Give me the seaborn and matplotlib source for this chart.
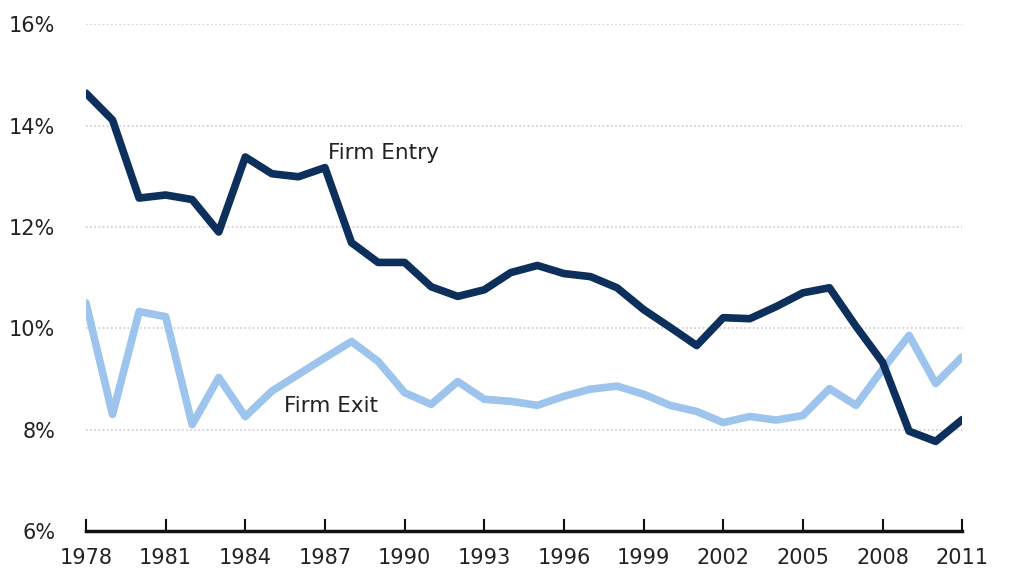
import numpy as np
import pandas as pd
import matplotlib
matplotlib.use('Agg')
import matplotlib.pyplot as plt
import seaborn as sns

# data (percent)
years = list(range(1978, 2012))
firm_entry = [14.64, 14.11, 12.57, 12.63, 12.54, 11.90, 13.38, 13.05, 12.99, 13.17,
              11.69, 11.30, 11.30, 10.82, 10.63, 10.76, 11.10, 11.24, 11.08, 11.02,
              10.80, 10.37, 10.02, 9.66, 10.21, 10.19, 10.43, 10.70, 10.80, 10.04,
              9.33, 7.97, 7.77, 8.20]
firm_exit = [10.50, 8.30, 10.33, 10.23, 8.10, 9.03, 8.26, 8.76, 9.09, 9.42,
             9.74, 9.35, 8.73, 8.50, 8.95, 8.60, 8.56, 8.48, 8.66, 8.80,
             8.86, 8.70, 8.48, 8.36, 8.14, 8.26, 8.19, 8.28, 8.81, 8.48,
             9.19, 9.86, 8.91, 9.44]
xticks = list(range(1978, 2012, 3))
yticks = [6, 8, 10, 12, 14, 16]

df = pd.DataFrame({'year': years, 'Firm Entry': firm_entry, 'Firm Exit': firm_exit})
df = df.melt(id_vars='year', var_name='series', value_name='rate')

sns.set_style('white')
plt.rcParams['font.family'] = ['DejaVu Sans']

fig = plt.figure(figsize=(10.15, 5.76), dpi=100)
ax = fig.add_axes([0.0847, 0.078, 0.8633, 0.880])

sns.lineplot(data=df, x='year', y='rate', hue='series',
             palette={'Firm Entry': '#0c2f5c', 'Firm Exit': '#9dc4ec'},
             hue_order=['Firm Exit', 'Firm Entry'],
             linewidth=5.5, legend=False, ax=ax)

ax.set_xlim(1978, 2011)
ax.set_ylim(6, 16)
ax.set_xticks(xticks)
ax.set_yticks(yticks)
ax.set_yticklabels([f'{v}%' for v in yticks], fontsize=15, color='#222222')
ax.set_xticklabels([str(v) for v in xticks], fontsize=15, color='#222222')

for v in yticks[1:]:
    ax.axhline(v, color='#cccccc', linestyle=(0, (1, 1.5)), linewidth=1.2, zorder=0)

for s in ['top', 'right', 'left']:
    ax.spines[s].set_visible(False)
ax.spines['bottom'].set_linewidth(2.5)
ax.spines['bottom'].set_color('#111111')
ax.tick_params(axis='x', bottom=True, direction='in', length=9, width=1.5,
               color='#111111', pad=12)
ax.tick_params(axis='y', left=False, length=0, pad=22)
ax.set_xlabel('')
ax.set_ylabel('')

ax.text(1987.1, 13.45, 'Firm Entry', fontsize=15.5, color='#222222', va='center')
ax.text(1985.45, 8.46, 'Firm Exit', fontsize=15.5, color='#222222', va='center')

fig.savefig('out.png', dpi=100)
